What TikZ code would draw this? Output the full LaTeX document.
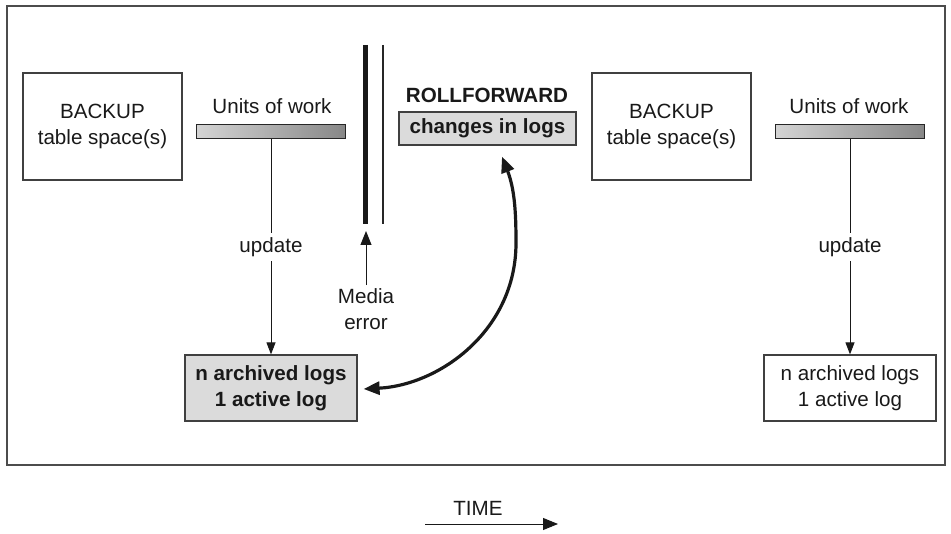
\documentclass[tikz,border=0pt]{standalone}
\usepackage{fontspec}
\setmainfont{Liberation Sans}
\usetikzlibrary{positioning,arrows.meta,calc}

\begin{document}
\begin{tikzpicture}[x=1pt,y=-1pt,
      >={Triangle[length=12pt,width=9pt]},
      every node/.style={font=\fontsize{20.6}{26}\selectfont,text=black!90},
      bold/.style={font=\fontsize{20.6}{26}\selectfont\bfseries},
      box/.style={draw=black!75,line width=1.2pt,minimum width=159pt,
        minimum height=107pt,align=center,inner sep=0pt},
      logbox/.style={draw=black!75,line width=1.2pt,minimum width=172pt,
        minimum height=66pt,align=center,inner sep=0pt},
      bar/.style={draw=black!85,line width=1pt,minimum width=149pt,
        minimum height=14pt,inner sep=0pt,left color=black!17,right color=black!47},
      flow/.style={draw=black!90,line width=1pt,->},
      curve/.style={draw=black!90,line width=3.2pt,
        {Triangle[length=16pt,width=13pt]}-{Triangle[length=16pt,width=13pt]}}
    ]
    \useasboundingbox (0,0) rectangle (951,534);
    \draw[black!70,line width=1.2pt] (7,6) rectangle (945,465);

    % first backup cycle
    \node[box] (bk1) at (102.5,126.5) {BACKUP\\table space(s)};
    \node (uw1) at (272,106) {Units of work};
    \node[bar] (bar1) at (271,132) {};
    \node[logbox,bold,fill=black!14] (logs1) at (271,388)
      {n archived logs\\1 active log};
    \draw[flow] (bar1) -- node[fill=white,inner sep=4pt] (upd1) {update} (logs1);

    % media failure
    \draw[black!90,line width=5pt] (365,45) -- (365,224);
    \draw[black!85,line width=1.5pt] (383,45) -- (383,224);
    \coordinate (crash) at (366,231);
    \node[align=center,inner sep=3pt] (media) at (366,309) {Media\\error};
    \draw[flow,>={Triangle[length=14pt,width=11pt]}] (media) -- (crash);

    % rollforward
    \node[bold] (roll) at (487,95) {ROLLFORWARD};
    \node[bold,draw=black!75,line width=1.2pt,fill=black!14,inner sep=0pt,
      minimum width=177pt,minimum height=33pt] (chg) at (487.5,128.5)
      {changes in logs};
    \draw[curve] ($(chg.south)+(14.5,11)$) .. controls (515,190) and (516,215)
      .. (516,243) .. controls (516,330) and (440,385) .. ($(logs1.east)+(6,1)$);

    % second backup cycle
    \node[box] (bk2) at (671.5,126.5) {BACKUP\\table space(s)};
    \node (uw2) at (849,106) {Units of work};
    \node[bar] (bar2) at (850,132) {};
    \node[logbox] (logs2) at (850,388) {n archived logs\\1 active log};
    \draw[flow] (bar2) -- node[fill=white,inner sep=4pt] (upd2) {update} (logs2);

    % time axis
    \node (time) at (478,508) {TIME};
    \coordinate (t0) at (425,524);
    \coordinate (t1) at (558,524);
    \draw[flow,>={Triangle[length=15pt,width=12pt]}] (t0) -- (t1);
  \end{tikzpicture}
\end{document}
